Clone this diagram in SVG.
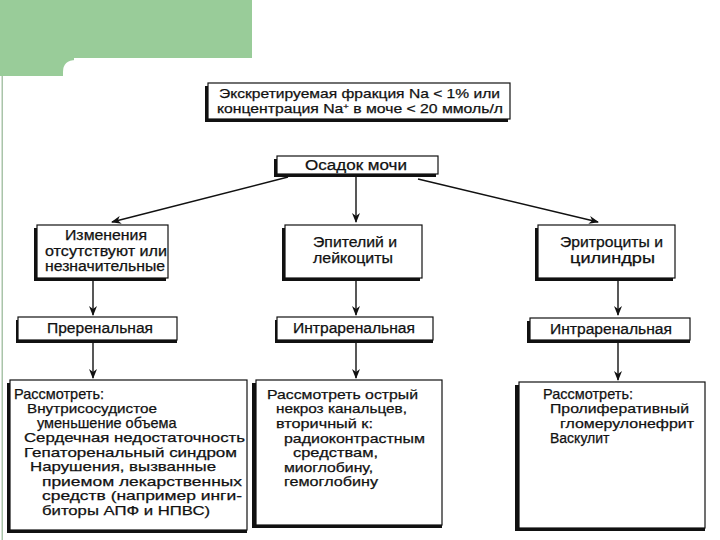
<svg xmlns="http://www.w3.org/2000/svg" width="720" height="540" viewBox="0 0 720 540">
<style>
  text { font-family: "Liberation Sans", Arial, sans-serif; font-size: 14px; fill: #111; stroke: #111; stroke-width: 0.25; }
  .s { font-size: 13.5px; }
  .n { font-size: 14.5px; }
  .t { font-size: 13.5px; }
  .box { fill: #fff; stroke: #111; stroke-width: 1.2; }
  .sh { fill: #111; }
  .ln { stroke: #111; stroke-width: 1.4; fill: none; marker-end: url(#ah); }
</style>
<defs>
  <marker id="ah" markerWidth="10" markerHeight="8" refX="9" refY="4" orient="auto" markerUnits="userSpaceOnUse">
    <path d="M0,0 L10,4 L0,8 L3,4 Z" fill="#111"/>
  </marker>
</defs>
<rect width="720" height="540" fill="#fff"/>
<g id="decor">
  <rect x="0" y="0" width="252" height="58" fill="#99cc99"/>
  <rect x="0" y="58" width="74" height="18" fill="#99cc99"/>
  <path d="M63,76 L63,72 Q63,60 76,60 L252,60 L252,76 Z" fill="#fff"/>
  <rect x="1.5" y="76" width="1.5" height="464" fill="#a9c4a9"/>
</g>
<g id="connectors">
  <line class="ln" x1="288" y1="177" x2="112" y2="222"/>
  <line class="ln" x1="356" y1="177" x2="356" y2="222"/>
  <line class="ln" x1="418" y1="179" x2="598" y2="222"/>
  <line class="ln" x1="93" y1="279" x2="93" y2="315"/>
  <line class="ln" x1="356" y1="280" x2="356" y2="315"/>
  <line class="ln" x1="618" y1="279" x2="618" y2="315"/>
  <line class="ln" x1="93" y1="343" x2="93" y2="378"/>
  <line class="ln" x1="356" y1="343" x2="356" y2="378"/>
  <line class="ln" x1="618" y1="343" x2="618" y2="380"/>
</g>
<g id="n-top">
  <rect class="sh" x="205" y="86" width="303" height="36"/>
  <rect class="box" x="208" y="83" width="302" height="36"/>
  <text class="t" x="219" y="98" textLength="281" lengthAdjust="spacingAndGlyphs">Экскретируемая фракция Na &lt; 1% или</text>
  <text class="t" x="217" y="113" textLength="286" lengthAdjust="spacingAndGlyphs">концентрация Na<tspan dy="-4" font-size="8">+</tspan><tspan dy="4"> в моче &lt; 20 ммоль/л</tspan></text>
</g>
<g id="n-osadok">
  <rect class="sh" x="274" y="159" width="162" height="18"/>
  <rect class="box" x="277" y="156" width="161" height="18"/>
  <text x="305" y="170" textLength="102" lengthAdjust="spacingAndGlyphs">Осадок мочи</text>
</g>
<g id="n-change">
  <rect class="sh" x="34" y="228" width="132" height="53"/>
  <rect class="box" x="37" y="225" width="131" height="53"/>
  <text x="65" y="240" textLength="82" lengthAdjust="spacingAndGlyphs">Изменения</text>
  <text x="45" y="256" textLength="122" lengthAdjust="spacingAndGlyphs">отсутствуют или</text>
  <text x="45" y="271" textLength="120" lengthAdjust="spacingAndGlyphs">незначительные</text>
</g>
<g id="n-epit">
  <rect class="sh" x="282" y="228" width="138" height="53"/>
  <rect class="box" x="285" y="225" width="137" height="53"/>
  <text x="313" y="247" textLength="84" lengthAdjust="spacingAndGlyphs">Эпителий и</text>
  <text x="313" y="263" textLength="80" lengthAdjust="spacingAndGlyphs">лейкоциты</text>
</g>
<g id="n-eryth">
  <rect class="sh" x="535" y="228" width="138" height="53"/>
  <rect class="box" x="538" y="225" width="137" height="53"/>
  <text x="560" y="247" textLength="103" lengthAdjust="spacingAndGlyphs">Эритроциты и</text>
  <text x="570" y="263" textLength="85" lengthAdjust="spacingAndGlyphs">цилиндры</text>
</g>
<g id="n-prerenal">
  <rect class="sh" x="16" y="320" width="161" height="23"/>
  <rect class="box" x="18" y="317" width="159" height="23"/>
  <text x="47" y="333" textLength="106" lengthAdjust="spacingAndGlyphs">Преренальная</text>
</g>
<g id="n-intra1">
  <rect class="sh" x="275" y="320" width="158" height="23"/>
  <rect class="box" x="277" y="317" width="156" height="23"/>
  <text x="293" y="333" textLength="122" lengthAdjust="spacingAndGlyphs">Интраренальная</text>
</g>
<g id="n-intra2">
  <rect class="sh" x="527" y="321" width="163" height="22"/>
  <rect class="box" x="530" y="318" width="160" height="22"/>
  <text x="550" y="334" textLength="122" lengthAdjust="spacingAndGlyphs">Интраренальная</text>
</g>
<g id="n-cons1">
  <rect class="sh" x="7" y="383" width="240" height="150"/>
  <rect class="box" x="10" y="380" width="237" height="150"/>
  <text class="n" x="14" y="399">Рассмотреть:</text>
  <text class="s" x="27" y="413" textLength="130" lengthAdjust="spacingAndGlyphs">Внутрисосудистое</text>
  <text class="n" x="37" y="428">уменьшение объема</text>
  <text class="s" x="24" y="442" textLength="221" lengthAdjust="spacingAndGlyphs">Сердечная недостаточность</text>
  <text class="s" x="24" y="457" textLength="213" lengthAdjust="spacingAndGlyphs">Гепаторенальный синдром</text>
  <text class="s" x="30" y="471" textLength="186" lengthAdjust="spacingAndGlyphs">Нарушения, вызванные</text>
  <text class="s" x="42" y="486" textLength="200" lengthAdjust="spacingAndGlyphs">приемом лекарственных</text>
  <text class="s" x="42" y="500" textLength="200" lengthAdjust="spacingAndGlyphs">средств (например инги-</text>
  <text class="s" x="42" y="515" textLength="168" lengthAdjust="spacingAndGlyphs">биторы АПФ и НПВС)</text>
</g>
<g id="n-cons2">
  <rect class="sh" x="252" y="383" width="190" height="145"/>
  <rect class="box" x="256" y="380" width="186" height="145"/>
  <text class="s" x="267" y="399" textLength="151" lengthAdjust="spacingAndGlyphs">Рассмотреть острый</text>
  <text class="s" x="276" y="413" textLength="131" lengthAdjust="spacingAndGlyphs">некроз канальцев,</text>
  <text class="s" x="276" y="428" textLength="97" lengthAdjust="spacingAndGlyphs">вторичный к:</text>
  <text class="s" x="284" y="443" textLength="141" lengthAdjust="spacingAndGlyphs">радиоконтрастным</text>
  <text class="s" x="293" y="457" textLength="85" lengthAdjust="spacingAndGlyphs">средствам,</text>
  <text class="s" x="284" y="472" textLength="89" lengthAdjust="spacingAndGlyphs">миоглобину,</text>
  <text class="s" x="284" y="486" textLength="94" lengthAdjust="spacingAndGlyphs">гемоглобину</text>
</g>
<g id="n-cons3">
  <rect class="sh" x="515" y="385" width="190" height="146"/>
  <rect class="box" x="519" y="382" width="186" height="146"/>
  <text class="n" x="543" y="399">Рассмотреть:</text>
  <text class="s" x="550" y="413" textLength="139" lengthAdjust="spacingAndGlyphs">Пролиферативный</text>
  <text class="s" x="560" y="428" textLength="134" lengthAdjust="spacingAndGlyphs">гломерулонефрит</text>
  <text x="550" y="443">Васкулит</text>
</g>
</svg>
